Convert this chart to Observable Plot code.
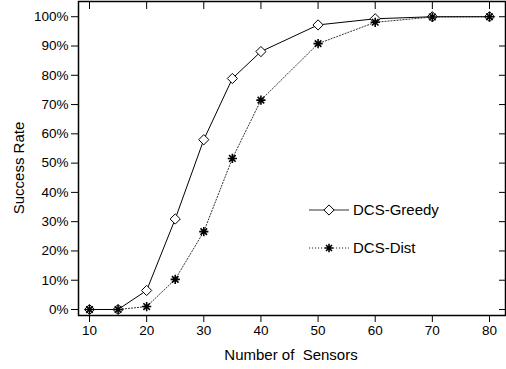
<!DOCTYPE html>
<html><head><meta charset="utf-8">
<script src="https://cdn.jsdelivr.net/npm/d3@7"></script>
<script src="https://cdn.jsdelivr.net/npm/@observablehq/plot@0.6"></script>
<style>
body{margin:0;background:#fff;}
#chart{position:relative;width:506px;height:369px;}
svg{font-family:"Liberation Sans",Arial,sans-serif;}
</style>
</head><body><div id="chart"></div>
<script>
const sensors = [10, 15, 20, 25, 30, 35, 40, 50, 60, 70, 80];
const greedy = [0, 0, 6.5, 30.9, 58.0, 78.9, 88.1, 97.2, 99.3, 100, 100];
const dist = [0, 0, 1.0, 10.3, 26.6, 51.6, 71.5, 90.8, 98.1, 99.9, 100];
const xTicks = [10, 20, 30, 40, 50, 60, 70, 80];
const yTicks = [0, 10, 20, 30, 40, 50, 60, 70, 80, 90, 100];
const seriesNames = ["DCS-Greedy", "DCS-Dist"];

const asterisk8 = {
  draw(ctx, size) {
    const r = Math.sqrt(size) * 0.62;
    for (let i = 0; i < 4; i++) {
      const a = i * Math.PI / 4;
      ctx.moveTo(-r * Math.cos(a), -r * Math.sin(a));
      ctx.lineTo(r * Math.cos(a), r * Math.sin(a));
    }
  }
};

const gData = sensors.map((s, i) => ({s, v: greedy[i]}));
const dData = sensors.map((s, i) => ({s, v: dist[i]}));

const chart = Plot.plot({
  width: 506, height: 369,
  marginLeft: 78, marginRight: 1, marginTop: 1, marginBottom: 54,
  style: {fontFamily: '"Liberation Sans", Arial, sans-serif', fontSize: "13.5px", color: "#000", background: "#fff"},
  x: {type: "linear", domain: [8.075, 82.8]},
  y: {domain: [-2.05, 105.2]},
  marks: [
    Plot.frame({stroke: "#000", strokeWidth: 1.5}),
    Plot.axisX({ticks: xTicks, anchor: "bottom", tickSize: 7, tickPadding: 3, tickFormat: d => d, fontSize: 13.5, label: null}),
    Plot.axisX({ticks: xTicks, anchor: "top", tickSize: -7, tickFormat: () => "", label: null}),
    Plot.axisY({ticks: yTicks, anchor: "left", tickSize: 7, tickPadding: 3, tickFormat: d => d + "%", fontSize: 13.5, label: null}),
    Plot.axisY({ticks: yTicks, anchor: "right", tickSize: -7, tickFormat: () => "", label: null}),
    Plot.line(dData, {x: "s", y: "v", stroke: "#333", strokeWidth: 1, strokeDasharray: "1.2,1.8"}),
    Plot.line(gData, {x: "s", y: "v", stroke: "#000", strokeWidth: 1}),
    Plot.dot(gData, {x: "s", y: "v", symbol: "diamond2", r: 4.6, stroke: "#000", fill: "#fff", strokeWidth: 1}),
    Plot.dot(dData, {x: "s", y: "v", symbol: asterisk8, r: 4.2, stroke: "#000", strokeWidth: 1.6})
  ]
});
document.getElementById("chart").appendChild(chart);

const svg = d3.select(chart);
// axis titles
svg.append("text").attr("x", 291).attr("y", 355).attr("dy", "0.35em").attr("text-anchor", "middle")
  .attr("font-size", 15).attr("fill", "#000").text("Number of  Sensors");
svg.append("text").attr("transform", "translate(19,168) rotate(-90)").attr("dy", "0.35em").attr("text-anchor", "middle")
  .attr("font-size", 15).attr("fill", "#000").text("Success Rate");
// legend
const lg = svg.append("g");
const items = [
  {name: seriesNames[0], y: 210, dash: null, sym: d3.symbol(d3.symbolDiamond2, 66)},
  {name: seriesNames[1], y: 248, dash: "1.2,1.8", sym: d3.symbol(asterisk8, 46)}
];
items.forEach(it => {
  lg.append("line").attr("x1", 309).attr("x2", 349).attr("y1", it.y).attr("y2", it.y)
    .attr("stroke", "#333").attr("stroke-width", 1).attr("stroke-dasharray", it.dash);
  lg.append("path").attr("d", it.sym()).attr("transform", `translate(329,${it.y})`)
    .attr("fill", "#fff").attr("stroke", "#000").attr("stroke-width", it.dash ? 1.6 : 1);
  lg.append("text").attr("x", 353).attr("y", it.y).attr("dy", "0.35em").attr("text-anchor", "start")
    .attr("font-size", 15).attr("fill", "#000").text(it.name);
});
</script></body></html>
